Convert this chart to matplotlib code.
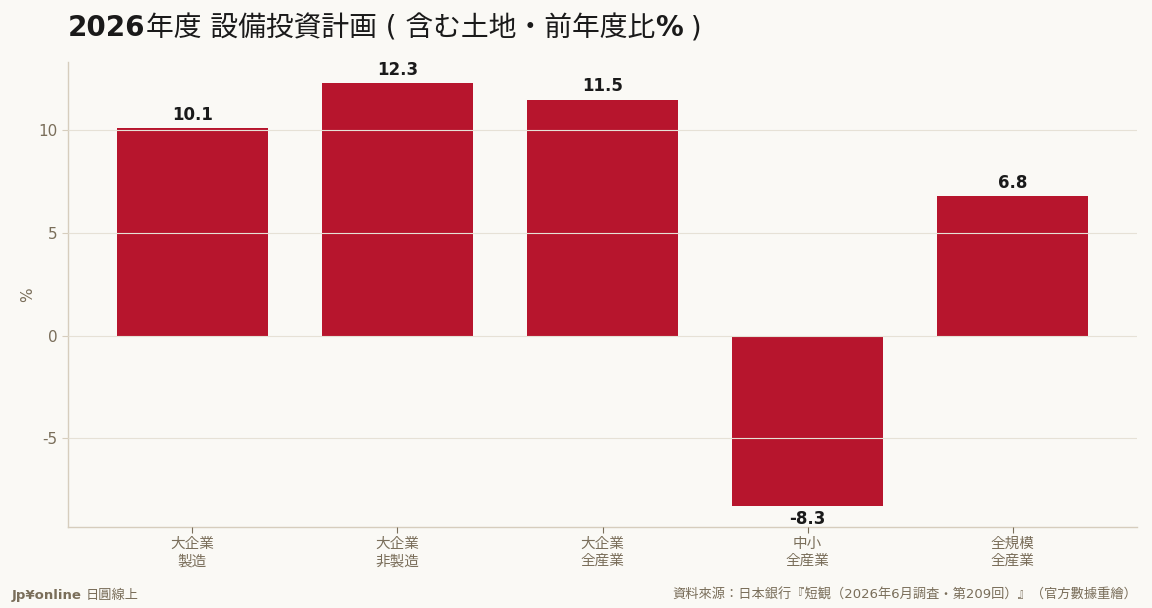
import numpy as np
import matplotlib
matplotlib.use("Agg")
import matplotlib.pyplot as plt

# data
categories = ["大企業\n製造", "大企業\n非製造", "大企業\n全産業", "中小\n全産業", "全規模\n全産業"]
values = [10.1, 12.3, 11.5, -8.3, 6.8]
yticks = [-5, 0, 5, 10]

# title pieces: (text, bold?)
title_parts = [("2026", True), ("年度 設備投資計画 ( 含む土地・前年度比", False), ("%", True), (" )", False)]
source = "資料來源：日本銀行『短観（2026年6月調査・第209回）』（官方數據重繪）"

fonts = ["DejaVu Sans", "Noto Sans CJK JP"]
plt.rcParams["font.family"] = fonts
plt.rcParams["axes.unicode_minus"] = False

bg = "#faf9f5"
bar_color = "#b7152d"
tick_color = "#7a6e5a"
grid_color = "#e6e1d6"
spine_color = "#d6cdbd"

fig = plt.figure(figsize=(11.52, 6.08), dpi=100, facecolor=bg)
ax = fig.add_axes([68 / 1152, 81 / 608, (1137 - 68) / 1152, (527 - 62) / 608])
ax.set_facecolor(bg)

x = np.arange(len(categories))
bars = ax.bar(x, values, width=0.74, color=bar_color, zorder=2)

ax.set_yticks(yticks)
ax.set_xticks(x)
ax.set_xticklabels(categories, fontsize=10.5, color=tick_color,
                   family=["Noto Sans CJK JP", "DejaVu Sans"], linespacing=1.3)
ax.tick_params(axis="y", labelsize=11, labelcolor=tick_color, color=spine_color, length=4)
ax.tick_params(axis="x", color=tick_color, length=4, pad=3)
ax.set_ylabel("%", fontsize=11, color=tick_color, labelpad=2)

ax.grid(axis="y", color=grid_color, linewidth=0.8, zorder=3)
ax.set_axisbelow(False)
for s in ["top", "right"]:
    ax.spines[s].set_visible(False)
for s in ["left", "bottom"]:
    ax.spines[s].set_color(spine_color)
    ax.spines[s].set_linewidth(1)

for b, v in zip(bars, values):
    off = 3 if v >= 0 else -3
    va = "bottom" if v >= 0 else "top"
    ax.annotate(f"{v:.1f}", (b.get_x() + b.get_width() / 2, v),
                xytext=(0, off), textcoords="offset points",
                ha="center", va=va, fontsize=12, fontweight="bold", color="#1a1a1a")

# title, bold latin / regular CJK, placed piece by piece
renderer = fig.canvas.get_renderer()
tx = 68
for txt, bold in title_parts:
    t = fig.text(tx / 1152, 1 - 28 / 608, txt, fontsize=20,
                 fontweight="bold" if bold else "normal",
                 color="#1a1a1a", va="center", ha="left")
    tx += t.get_window_extent(renderer).width

fig.text(12 / 1152, 1 - 595 / 608, "Jp¥online", fontsize=9.5, fontweight="bold",
         color=tick_color, va="center", ha="left")
fig.text(86 / 1152, 1 - 595 / 608, "日圓線上", fontsize=9.5,
         color=tick_color, va="center", ha="left", family=["Noto Sans CJK JP", "DejaVu Sans"])
fig.text(1137 / 1152, 1 - 595 / 608, source, fontsize=9.5,
         color=tick_color, va="center", ha="right")

fig.savefig("out.png", dpi=100, facecolor=bg)
